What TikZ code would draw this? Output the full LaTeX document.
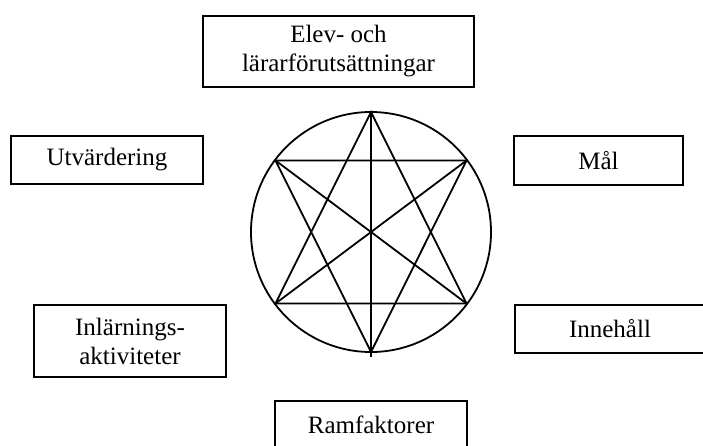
\documentclass[tikz,border=0pt]{standalone}
\usepackage{fontspec}
\setmainfont{Liberation Serif}
\begin{document}
\begin{tikzpicture}[x=1pt,y=-1pt,
  box/.style={draw, line width=2pt, inner sep=0pt, align=center,
              font=\fontsize{25}{29}\selectfont},
  starline/.style={line width=1.8pt, line join=miter}]
\useasboundingbox (0,0) rectangle (703,445);
\clip (0,0) rectangle (703,445);
% boxes
\node[box, minimum width=271pt, minimum height=71pt] (elev) at (338.5,51.5) {Elev- och\\lärarförutsättningar};
\node[box, minimum width=192pt, minimum height=48pt] (utv) at (107,160) {Utvärdering};
\node[box, minimum width=169pt, minimum height=49pt] (mal) at (598.5,160.5) {Mål};
\node[box, minimum width=192pt, minimum height=72pt] (inl) at (130,341) {Inlärnings-\\aktiviteter};
\node[box, minimum width=190pt, minimum height=48pt] (inn) at (610,329) {Innehåll};
\node[box, minimum width=192pt, minimum height=48pt] (ram) at (371,424.5) {Ramfaktorer};
% star figure
\coordinate (C) at (371,232);
\coordinate (T) at (371,112);
\coordinate (B) at (371,352);
\coordinate (Bx) at (371,357);
\coordinate (UL) at (275.5,160.5);
\coordinate (UR) at (466.5,160.5);
\coordinate (LL) at (275.5,303.5);
\coordinate (LR) at (466.5,303.5);
\draw[starline] (C) circle[radius=120];
\draw[starline] (T) -- (LL) -- (LR) -- cycle;
\draw[starline] (B) -- (UL) -- (UR) -- cycle;
\draw[starline] (UL) -- (LR);
\draw[starline] (UR) -- (LL);
\draw[starline] (T) -- (Bx);
\end{tikzpicture}
\end{document}
